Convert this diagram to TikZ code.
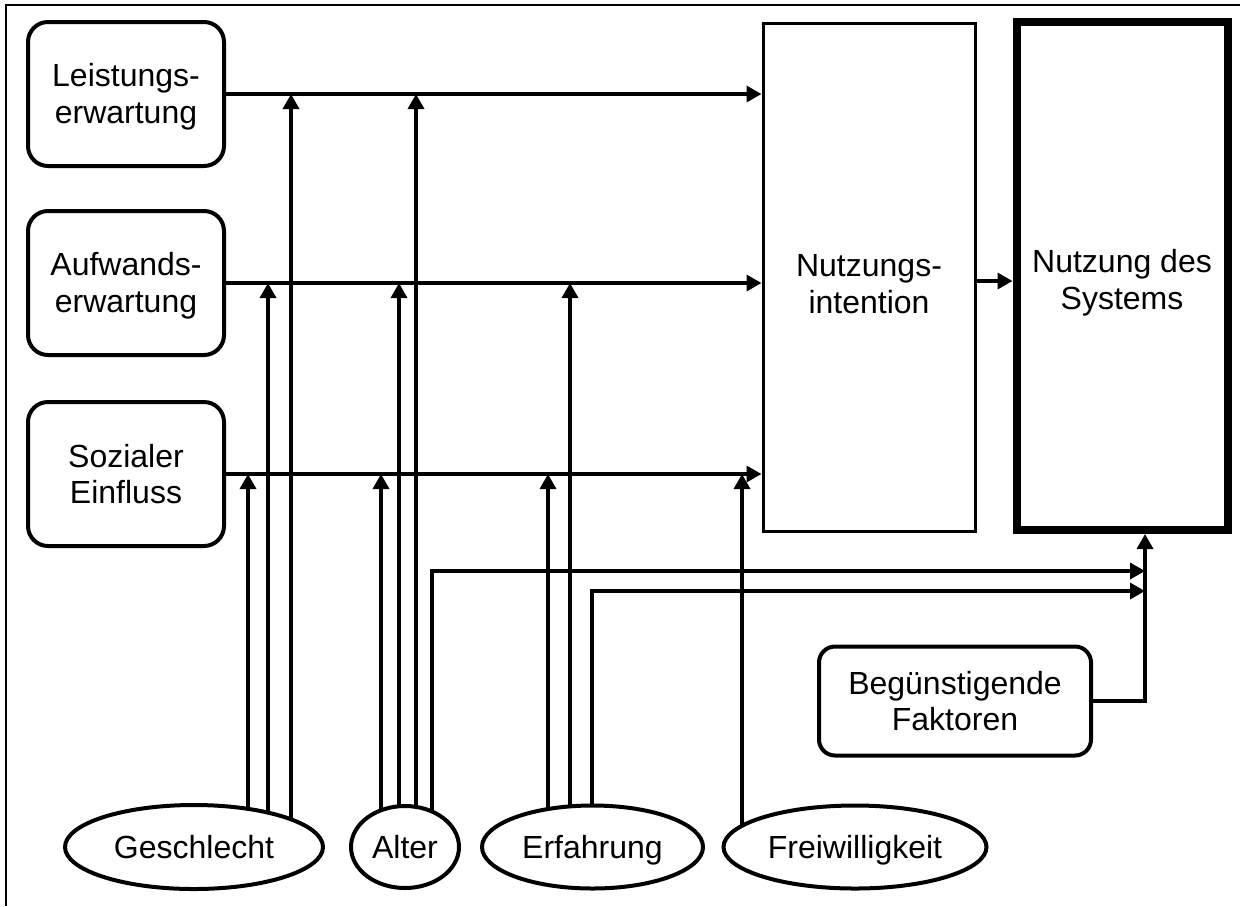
\documentclass[tikz,border=0pt]{standalone}
\usepackage{fontspec}
\setmainfont{Liberation Sans}
\usetikzlibrary{arrows.meta,shapes.geometric,calc,backgrounds}
\begin{document}
\begin{tikzpicture}[x=0.5pt,y=-0.5pt,
  every node/.style={font=\fontsize{16}{18.4}\selectfont, align=center, inner sep=0pt, fill=white},
  rbox/.style={draw, rounded corners=10pt, line width=2pt, minimum width=98pt, minimum height=72pt},
  sbox/.style={draw, line width=1.5pt, minimum width=106pt, minimum height=254pt},
  tbox/.style={draw, line width=4pt, minimum width=105.5pt, minimum height=254pt},
  fbox/.style={draw, rounded corners=8pt, line width=2pt, minimum width=136pt, minimum height=54.5pt},
  ell/.style={draw, ellipse, line width=2pt, text height=11.5pt, text depth=0pt},
  conn/.style={line width=1.7pt},
  arr/.style={conn, -{Triangle[length=7.5pt,width=8pt]}},
  frame/.style={line width=1pt}
]
\useasboundingbox (0,0) rectangle (1240,906);
\draw[frame] (6,906) -- (6,5) -- (1240,5);

% boxes
\node[rbox] (leis) at (126,94) {\rule{0pt}{14pt}Leistungs-\\erwartung};
\node[rbox] (aufw) at (126,283) {\rule{0pt}{14pt}Aufwands-\\erwartung};
\node[rbox] (soz) at (126,474) {Sozialer\\Einfluss};
\node[sbox] (ni) at (869,277) {\rule{0pt}{18pt}Nutzungs-\\intention};
\node[tbox] (nds) at (1122,276) {\rule{0pt}{18pt}Nutzung des\\Systems};
\node[fbox] (bf) at (955,701) {Begünstigende\\Faktoren};

% moderators
\node[ell, minimum width=129pt, minimum height=42pt] (ge) at (194,847) {Geschlecht};
\node[ell, minimum width=54pt, minimum height=41pt] (al) at (405,847) {Alter};
\node[ell, minimum width=110.5pt, minimum height=41.5pt] (er) at (592.5,847) {Erfahrung};
\node[ell, minimum width=131.5pt, minimum height=41.5pt] (fr) at (855,847) {Freiwilligkeit};

% helper coordinates
\coordinate (g1) at ($(ge.center)+(54,0)$);
\coordinate (g2) at ($(ge.center)+(74,0)$);
\coordinate (g3) at ($(ge.center)+(97,0)$);
\coordinate (a1) at ($(al.center)+(-24,0)$);
\coordinate (a2) at ($(al.center)+(-6,0)$);
\coordinate (a3) at ($(al.center)+(11,0)$);
\coordinate (a4) at ($(al.center)+(27,0)$);
\coordinate (e1) at ($(er.center)+(-44.5,0)$);
\coordinate (e2) at ($(er.center)+(-22.5,0)$);
\coordinate (e3) at ($(er.center)+(-0.5,0)$);
\coordinate (f1) at ($(fr.center)+(-113,0)$);
\coordinate (jn) at ($(nds.south)+(23,0)$);
\coordinate (r4) at (0,571);
\coordinate (r5) at (0,591);
\coordinate (mid) at ($(ni.east)+(0,4)$);

\begin{pgfonlayer}{background}
% main paths
\draw[arr] (leis.east) -- (leis.east -| ni.west);
\draw[arr] (aufw.east) -- (aufw.east -| ni.west);
\draw[arr] (soz.east) -- (soz.east -| ni.west);
\draw[arr] (mid) -- (mid -| nds.west);
\draw[arr] (bf.east) -| (jn);
% moderator arrows
\draw[arr] (g1) -- (g1 |- soz.east);
\draw[arr] (g2) -- (g2 |- aufw.east);
\draw[arr] (g3) -- (g3 |- leis.east);
\draw[arr] (a1) -- (a1 |- soz.east);
\draw[arr] (a2) -- (a2 |- aufw.east);
\draw[arr] (a3) -- (a3 |- leis.east);
\draw[arr] (a4) |- (jn |- r4);
\draw[arr] (e1) -- (e1 |- soz.east);
\draw[arr] (e2) -- (e2 |- aufw.east);
\draw[arr] (e3) |- (jn |- r5);
\draw[arr] (f1) -- (f1 |- soz.east);
\end{pgfonlayer}
\end{tikzpicture}
\end{document}
